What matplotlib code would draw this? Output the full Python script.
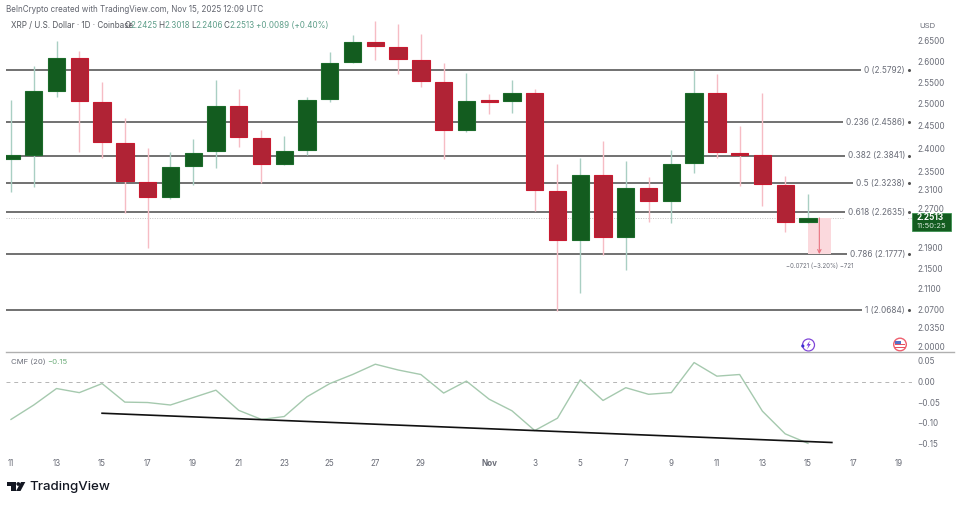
import matplotlib
matplotlib.use("Agg")
from matplotlib import pyplot as plt
from matplotlib.patches import Circle, Polygon, Rectangle
import numpy as np

plt.rcParams['font.family'] = ['Inter', 'DejaVu Sans']

# daily candles, Oct 11 .. Nov 15
opens = [2.3764, 2.3852, 2.5310, 2.6078, 2.5044, 2.4117, 2.3267, 2.2948, 2.3612, 2.3940,
         2.4952, 2.4228, 2.3655, 2.3962, 2.5113, 2.5983, 2.6465, 2.6344, 2.6030, 2.5509,
         2.4407, 2.5090, 2.5067, 2.5264, 2.3086, 2.2058, 2.3417, 2.2119, 2.3139, 2.2864,
         2.3677, 2.5252, 2.3896, 2.3863, 2.3203, 2.2425]
highs = [2.5090, 2.5887, 2.6489, 2.6247, 2.5509, 2.4678, 2.4006, 2.3918, 2.4206, 2.5556,
         2.5345, 2.4407, 2.4273, 2.5159, 2.6223, 2.6636, 2.6981, 2.6907, 2.6660, 2.5959,
         2.5721, 2.5229, 2.5556, 2.5345, 2.3655, 2.3786, 2.4161, 2.3721, 2.3374, 2.3962,
         2.5792, 2.5697, 2.4497, 2.5252, 2.3396, 2.3018]
lows = [2.3053, 2.3160, 2.5159, 2.3918, 2.3786, 2.2613, 2.1896, 2.2906, 2.3203, 2.3568,
        2.4028, 2.3245, 2.3634, 2.3852, 2.5044, 2.5959, 2.6030, 2.5697, 2.5392, 2.3764,
        2.4362, 2.4769, 2.4792, 2.2654, 2.0664, 2.1008, 2.1756, 2.1457, 2.2426, 2.2406,
        2.3460, 2.3786, 2.3182, 2.2759, 2.2221, 2.2406]
closes = [2.3852, 2.5310, 2.6078, 2.5078, 2.4139, 2.3288, 2.2948, 2.3590, 2.3896, 2.4952,
          2.4250, 2.3655, 2.3940, 2.5102, 2.5959, 2.6465, 2.6368, 2.6054, 2.5532, 2.4407,
          2.5078, 2.5055, 2.5264, 2.3096, 2.2058, 2.3417, 2.2119, 2.3139, 2.2864, 2.3655,
          2.5252, 2.3918, 2.3863, 2.3224, 2.2426, 2.2513]
cmf = [-0.092, -0.057, -0.017, -0.027, -0.005, -0.050, -0.051, -0.057, -0.039, -0.021,
       -0.070, -0.092, -0.085, -0.037, -0.005, 0.017, 0.042, 0.028, 0.017, -0.028,
       0.001, -0.043, -0.071, -0.119, -0.089, 0.004, -0.046, -0.015, -0.031, -0.027,
       0.046, 0.013, 0.017, -0.072, -0.127, -0.150]

fib_levels = [2.5792, 2.4586, 2.3841, 2.3238, 2.2635, 2.1777, 2.0684]
fib_labels = ['0 (2.5792)', '0.236 (2.4586)', '0.382 (2.3841)', '0.5 (2.3238)',
              '0.618 (2.2635)', '0.786 (2.1777)', '1 (2.0684)']

price_ticks = [2.65, 2.60, 2.55, 2.50, 2.45, 2.40, 2.35, 2.31, 2.27, 2.19, 2.15, 2.11, 2.07, 2.035, 2.00]
cmf_ticks = [0.05, 0.0, -0.05, -0.10, -0.15]
cmf_tick_labels = ['0.05', '0.00', '\u22120.05', '\u22120.10', '\u22120.15']
date_ticks = [0, 2, 4, 6, 8, 10, 12, 14, 16, 18, 21, 23, 25, 27, 29, 31, 33, 35, 37, 39]
date_labels = ['11', '13', '15', '17', '19', '21', '23', '25', '27', '29', 'Nov',
               '3', '5', '7', '9', '11', '13', '15', '17', '19']

trend_x = [4, 36.05]
trend_y = [-0.077, -0.148]

# short position box on the last bar
box_x = [35, 36]
box_y = [2.2513, 2.1777]

GREEN = '#135c1f'
RED = '#b02335'
TEXT = '#6a6d78'
TEAL = '#5f9f8a'

W, H = 960, 505
fig = plt.figure(figsize=(W / 100, H / 100), dpi=100)


def axes_px(left, top, right, bottom):
    return fig.add_axes([left / W, 1 - bottom / H, (right - left) / W, (bottom - top) / H])


ax = axes_px(6, 15, 912, 352)
sub = axes_px(6, 353, 912, 453)
x_left, x_right = (6 - 11) / 22.77, (912 - 11) / 22.77

ax.set_yscale('log')
ax.set_xlim(x_left, x_right)
ax.set_ylim(1.9902, 2.7131)

x = np.arange(len(opens))
o, h, l, c = map(np.array, (opens, highs, lows, closes))
up = c >= o
trans = ax.get_yaxis_transform()

ax.hlines(fib_levels, 0, 0.985, transform=trans, color='#4a4a4a', lw=1.1, zorder=1)
ax.axhline(closes[-1], color='#c4c4c4', lw=0.7, ls=(0, (1, 1.5)), zorder=1)
for lev, lab in zip(fib_levels, fib_labels):
    ax.text(0.9923, lev, lab, transform=trans, ha='right', va='center', fontsize=5.9, color=TEXT,
            bbox=dict(fc='white', ec='none', pad=2.2), zorder=2)
ax.plot([0.9967] * len(fib_levels), fib_levels, ls='none', marker='o', ms=1.2, color='#555555',
        transform=trans, zorder=2)

ax.vlines(x[up], l[up], h[up], color='#a9cfc3', lw=1, zorder=3)
ax.vlines(x[~up], l[~up], h[~up], color='#f6bcc4', lw=1, zorder=3)
ax.bar(x[up], (c - o)[up], bottom=o[up], width=0.76, color=GREEN, edgecolor='#1b6b2a', lw=0.8, zorder=4)
ax.bar(x[~up], (o - c)[~up], bottom=c[~up], width=0.76, color=RED, edgecolor='#c81a30', lw=0.8, zorder=4)

ax.add_patch(Rectangle((box_x[0], box_y[1]), box_x[1] - box_x[0], box_y[0] - box_y[1],
                       fc='#fbd9dd', ec='none', zorder=2))
ax.annotate('', xy=(sum(box_x) / 2, box_y[1]), xytext=(sum(box_x) / 2, box_y[0]), zorder=5,
            arrowprops=dict(arrowstyle='->', color='#e8727f', lw=0.8, mutation_scale=6, shrinkA=0, shrinkB=0))
ax.text(35.5, 2.1545, '\u22120.0721 (\u22123.20%) \u2212721', ha='center', va='center', fontsize=4.4, color=TEXT)

ax.set_yticks(price_ticks)
ax.set_yticks([], minor=True)
ax.set_yticklabels(['%.4f' % t for t in price_ticks])
ax.yaxis.tick_right()
ax.set_xticks([])
ax.tick_params(axis='y', length=0, labelsize=5.8, labelcolor=TEXT, pad=4)
for s in ax.spines.values():
    s.set_visible(False)

# CMF pane
sub.set_xlim(x_left, x_right)
sub.set_ylim(-0.1735, 0.0692)
sub.axhline(0, color='#b5b5b5', lw=0.7, ls=(0, (4, 4)))
sub.plot(x, cmf, color='#a5c9ae', lw=1)
sub.plot(trend_x, trend_y, color='#111111', lw=1.2)
sub.set_yticks(cmf_ticks)
sub.set_yticklabels(cmf_tick_labels)
sub.yaxis.tick_right()
sub.set_xticks(date_ticks)
sub.set_xticklabels(date_labels)
sub.get_xticklabels()[10].set_fontweight('bold')
sub.tick_params(axis='both', length=0, labelsize=5.8, labelcolor=TEXT)
sub.tick_params(axis='y', pad=4)
sub.tick_params(axis='x', pad=4)
for s in sub.spines.values():
    s.set_visible(False)

# overlay in pixels for the chrome around the chart
pix = fig.add_axes([0, 0, 1, 1], zorder=10)
pix.set_xlim(0, W)
pix.set_ylim(H, 0)
pix.axis('off')
pix.patch.set_alpha(0)

pix.plot([6, 954], [352, 352], color='#b0b0b0', lw=1)
pix.text(6, 9.5, 'BeInCrypto created with TradingView.com, Nov 15, 2025 12:09 UTC',
         fontsize=5.8, color='#62656f', va='center')
pix.text(11, 25.5, 'XRP / U.S. Dollar \u00b7 1D \u00b7 Coinbase', fontsize=5.8, color='#55585f', va='center')
for px, s in [(124.5, 'O'), (158, 'H'), (191, 'L'), (223, 'C')]:
    pix.text(px, 25.5, s, fontsize=5.8, color='#55585f', va='center')
for px, s in [(130, '2.2425'), (164, '2.3018'), (195, '2.2406'), (229, '2.2513'), (256, '+0.0089 (+0.40%)')]:
    pix.text(px, 25.5, s, fontsize=5.8, color=TEAL, va='center')
pix.text(919, 26, 'USD', fontsize=5.6, color=TEXT, va='center')

pix.add_patch(Rectangle((912, 213), 38.5, 18, fc=GREEN, ec='#2e8b45', lw=0.5))
pix.text(917, 218, '2.2513', fontsize=5.9, color='white', va='center', fontweight='bold')
pix.text(917, 226, '11:50:25', fontsize=5.5, color='#d8e8da', va='center')

pix.text(11, 362, 'CMF (20)', fontsize=5.6, color=TEXT, va='center')
pix.text(47, 362, '\u22120.15', fontsize=5.6, color='#6fae7c', va='center')

# event icons
pix.add_patch(Circle((808.5, 345), 6, fc='white', ec='#8046d8', lw=0.9))
pix.add_patch(Polygon([(810, 340.5), (806.5, 345.5), (808.5, 345.5), (807, 349.5), (810.8, 344), (808.8, 344)],
                      fc='#7a3fe0', ec='none'))
pix.add_patch(Circle((802.8, 346), 1.6, fc='#3d2fd0', ec='none'))
pix.add_patch(Circle((900, 344.5), 6.3, fc='white', ec='#ee5f6e', lw=1))
pix.add_patch(Rectangle((895, 343.8), 10, 1.3, fc='#e8505f', ec='none'))
pix.add_patch(Rectangle((895, 346.5), 10, 1.3, fc='#e8505f', ec='none'))
pix.add_patch(Rectangle((895, 340.5), 5.5, 3.3, fc='#5570c8', ec='none'))

# TradingView logo
pix.add_patch(Polygon([(7, 482), (15.5, 482), (15.5, 491), (11, 491), (11, 486), (7, 486)], fc='#131722', ec='none'))
pix.add_patch(Circle((18.3, 484), 1.9, fc='#131722', ec='none'))
pix.add_patch(Polygon([(21, 482), (25.3, 482), (20.5, 491), (16, 491)], fc='#131722', ec='none'))
pix.text(29.5, 487, 'TradingView', fontsize=9.6, color='#131722', va='center', fontweight='medium')

fig.savefig('out.png', dpi=100)
